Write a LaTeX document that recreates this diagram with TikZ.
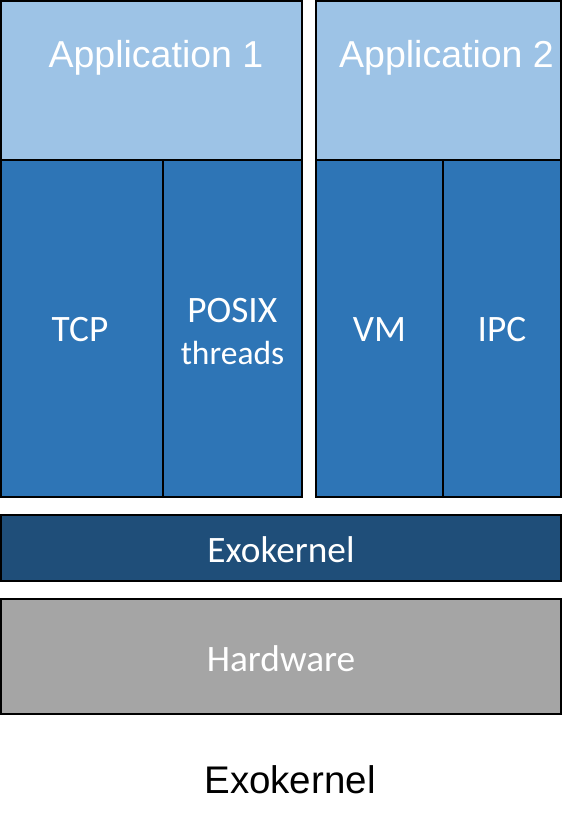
\documentclass[tikz,border=0pt]{standalone}
\usepackage{fontspec}
\setmainfont{Liberation Sans}
\newfontfamily\calfont{Carlito}
\definecolor{applight}{HTML}{9DC3E6}
\definecolor{libblue}{HTML}{2E75B6}
\definecolor{kerneldark}{HTML}{1F4E79}
\definecolor{hwgray}{HTML}{A5A5A5}
\begin{document}
\begin{tikzpicture}[x=1pt,y=-1pt,
  box/.style={draw=black,line width=2pt,inner sep=0pt,outer sep=0pt,anchor=north west,line join=miter},
  applbl/.style={anchor=base,text=white,inner sep=0pt,font=\fontsize{37.5}{40}\selectfont},
  liblbl/.style={anchor=base,text=white,inner sep=0pt,font=\calfont\fontsize{37.3}{40}\selectfont},
  caplbl/.style={anchor=base,text=black,inner sep=0pt,font=\fontsize{38.5}{40}\selectfont}]
\useasboundingbox (0,0) rectangle (579,826);
% boxes
\node[box,fill=applight,minimum width=301pt,minimum height=159pt] (app1) at (1,1) {};
\node[box,fill=libblue,minimum width=162pt,minimum height=337pt] (tcp) at (1,160) {};
\node[box,fill=libblue,minimum width=139pt,minimum height=337pt] (posix) at (163,160) {};
\node[box,fill=applight,minimum width=245pt,minimum height=159pt] (app2) at (316,1) {};
\node[box,fill=libblue,minimum width=127pt,minimum height=337pt] (vm) at (316,160) {};
\node[box,fill=libblue,minimum width=118pt,minimum height=337pt] (ipc) at (443,160) {};
\node[box,fill=kerneldark,minimum width=560pt,minimum height=66pt] (exo) at (1,515) {};
\node[box,fill=hwgray,minimum width=560pt,minimum height=115pt] (hw) at (1,599) {};
% labels
\node[applbl] (app1t) at (156,67.2) {Application 1};
\node[applbl] (app2t) at (446.5,67.2) {Application 2};
\node[liblbl] (tcpt) at (80,341.5) {TCP};
\node[liblbl] (posixt) at (232.3,322) {POSIX};
\node[liblbl,font=\calfont\fontsize{33.5}{36}\selectfont] (threadst) at (232.5,364.5) {threads};
\node[liblbl] (vmt) at (379.5,341.5) {VM};
\node[liblbl] (ipct) at (502,341.5) {IPC};
\node[liblbl] (exot) at (281,562.5) {Exokernel};
\node[liblbl] (hwt) at (281,671) {Hardware};
\node[caplbl] (cap) at (290,793.8) {Exokernel};
\end{tikzpicture}
\end{document}
